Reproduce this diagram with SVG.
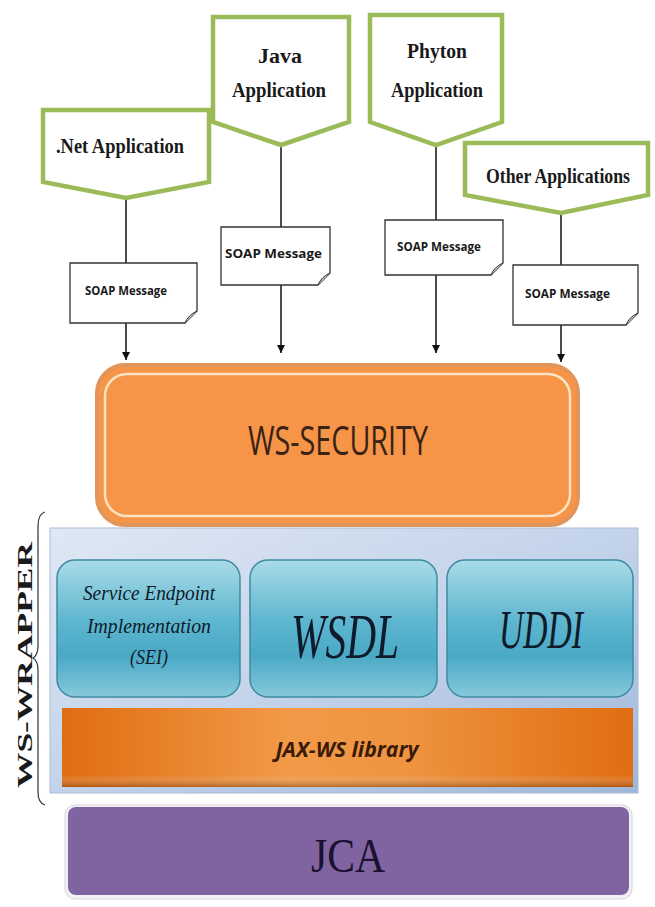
<svg xmlns="http://www.w3.org/2000/svg" width="655" height="907" viewBox="0 0 655 907">
<style>
.pent{fill:#ffffff;stroke:#9bbb59;stroke-width:4.5;stroke-linejoin:miter}
.apptxt{font-family:"Liberation Serif",serif;font-weight:bold;font-size:21px;fill:#1a1a1a}
.note{fill:#ffffff;stroke:#333333;stroke-width:1.3}
.notetxt{font-family:"Open Sans","Liberation Sans",sans-serif;font-weight:bold;font-size:12px;fill:#1a1a1a}
.conn{stroke:#111111;stroke-width:1.5;fill:none}
.teal{stroke:#3f8aa3;stroke-width:1.5}
.teltxt{font-family:"Liberation Serif",serif;font-style:italic;fill:#0f1a2a}
</style>
<defs>
<marker id="arr" markerWidth="10" markerHeight="10" refX="8" refY="5" orient="auto" markerUnits="userSpaceOnUse">
<path d="M0,1 L8,5 L0,9 Z" fill="#111111"/>
</marker>
<linearGradient id="wrapG" x1="0" y1="0" x2="1" y2="1">
<stop offset="0" stop-color="#dfe8f4"/>
<stop offset="0.5" stop-color="#c3d3ea"/>
<stop offset="1" stop-color="#9fb7da"/>
</linearGradient>
<linearGradient id="tealG" x1="0" y1="0" x2="0" y2="1">
<stop offset="0" stop-color="#a9dbe8"/>
<stop offset="0.45" stop-color="#5db6cf"/>
<stop offset="0.7" stop-color="#4aa9c5"/>
<stop offset="1" stop-color="#86c9dc"/>
</linearGradient>
<linearGradient id="jaxG" x1="0" y1="0" x2="1" y2="0">
<stop offset="0" stop-color="#e06d12"/>
<stop offset="0.4" stop-color="#f29a48"/>
<stop offset="0.6" stop-color="#ef9440"/>
<stop offset="1" stop-color="#e06d12"/>
</linearGradient>
<linearGradient id="jaxV" x1="0" y1="0" x2="0" y2="1">
<stop offset="0" stop-color="#ffffff" stop-opacity="0"/>
<stop offset="0.85" stop-color="#ffffff" stop-opacity="0"/>
<stop offset="1" stop-color="#7a3a08" stop-opacity="0.5"/>
</linearGradient>
</defs>

<g id="connectors">
<line class="conn" x1="126" y1="198" x2="126" y2="263"/>
<line class="conn" x1="126" y1="323" x2="126" y2="360" marker-end="url(#arr)"/>
<line class="conn" x1="281" y1="145" x2="281" y2="227"/>
<line class="conn" x1="281" y1="285" x2="281" y2="353" marker-end="url(#arr)"/>
<line class="conn" x1="436" y1="145" x2="436" y2="220"/>
<line class="conn" x1="436" y1="275" x2="436" y2="353" marker-end="url(#arr)"/>
<line class="conn" x1="561" y1="213" x2="561" y2="265"/>
<line class="conn" x1="561" y1="325" x2="561" y2="362" marker-end="url(#arr)"/>
</g>

<g id="net-app">
<path class="pent" d="M43,110 H209 V182 L126,198 L43,182 Z"/>
<text class="apptxt" x="120" y="153" text-anchor="middle" textLength="128" lengthAdjust="spacingAndGlyphs">.Net Application</text>
</g>
<g id="java-app">
<path class="pent" d="M213,17 H349 V122 L281,145 L213,122 Z"/>
<text class="apptxt" x="280" y="63" text-anchor="middle" textLength="44" lengthAdjust="spacingAndGlyphs">Java</text>
<text class="apptxt" x="279" y="97" text-anchor="middle" textLength="94" lengthAdjust="spacingAndGlyphs">Application</text>
</g>
<g id="phyton-app">
<path class="pent" d="M370,15 H502 V122 L436,145 L370,122 Z"/>
<text class="apptxt" x="437" y="58" text-anchor="middle" textLength="60" lengthAdjust="spacingAndGlyphs">Phyton</text>
<text class="apptxt" x="437" y="97" text-anchor="middle" textLength="92" lengthAdjust="spacingAndGlyphs">Application</text>
</g>
<g id="other-app">
<path class="pent" d="M465,143 H648 V195 L561,213 L465,195 Z"/>
<text class="apptxt" x="558" y="183" text-anchor="middle" textLength="144" lengthAdjust="spacingAndGlyphs">Other Applications</text>
</g>

<g id="soap1">
<path class="note" d="M70,263 H197 V311 L185,323 H70 Z"/>
<path d="M185,323 Q188,315 197,311" fill="#cccccc" stroke="#333333" stroke-width="1"/>
<text class="notetxt" x="85" y="295" textLength="82" lengthAdjust="spacingAndGlyphs">SOAP Message</text>
</g>
<g id="soap2">
<path class="note" d="M221,227 H330 V273 L318,285 H221 Z"/>
<path d="M318,285 Q321,277 330,273" fill="#cccccc" stroke="#333333" stroke-width="1"/>
<text class="notetxt" x="225" y="258" textLength="97" lengthAdjust="spacingAndGlyphs">SOAP Message</text>
</g>
<g id="soap3">
<path class="note" d="M385,220 H503 V263 L491,275 H385 Z"/>
<path d="M491,275 Q494,267 503,263" fill="#cccccc" stroke="#333333" stroke-width="1"/>
<text class="notetxt" x="397" y="251" textLength="84" lengthAdjust="spacingAndGlyphs">SOAP Message</text>
</g>
<g id="soap4">
<path class="note" d="M513,265 H638 V313 L626,325 H513 Z"/>
<path d="M626,325 Q629,317 638,313" fill="#cccccc" stroke="#333333" stroke-width="1"/>
<text class="notetxt" x="525" y="298" textLength="85" lengthAdjust="spacingAndGlyphs">SOAP Message</text>
</g>

<g id="ws-security">
<rect x="97" y="365" width="481" height="160" rx="28" fill="#f69547" stroke="#e2955a" stroke-width="4"/>
<rect x="105" y="374" width="465" height="142" rx="22" fill="none" stroke="#fbe4c6" stroke-width="2.5"/>
<text x="338" y="455" text-anchor="middle" font-family="'Open Sans','Liberation Sans',sans-serif" font-size="40" fill="#3a2216" textLength="180" lengthAdjust="spacingAndGlyphs">WS-SECURITY</text>
</g>

<g id="ws-wrapper">
<rect x="50" y="528" width="588" height="265" fill="url(#wrapG)" stroke="#a9bcd6" stroke-width="1"/>
<path d="M45,512 Q38,514 38,526 L38,646 Q38,655 33,658 Q38,661 38,670 L38,792 Q38,803 45,805" fill="none" stroke="#333333" stroke-width="1.2"/>
<text transform="translate(32,665) rotate(-90)" text-anchor="middle" font-family="'Liberation Serif',serif" font-weight="bold" font-size="20" fill="#1a1a1a" textLength="246" lengthAdjust="spacingAndGlyphs">WS-WRAPPER</text>
</g>

<g id="sei">
<rect class="teal" x="57" y="560" width="183" height="137" rx="18" fill="url(#tealG)"/>
<text class="teltxt" x="149" y="600" text-anchor="middle" font-size="21" textLength="132" lengthAdjust="spacingAndGlyphs">Service Endpoint</text>
<text class="teltxt" x="149" y="633" text-anchor="middle" font-size="21" textLength="124" lengthAdjust="spacingAndGlyphs">Implementation</text>
<text class="teltxt" x="149" y="664" text-anchor="middle" font-size="20" textLength="38" lengthAdjust="spacingAndGlyphs">(SEI)</text>
</g>
<g id="wsdl">
<rect class="teal" x="250" y="560" width="187" height="137" rx="18" fill="url(#tealG)"/>
<text class="teltxt" x="345" y="658" text-anchor="middle" font-size="64" textLength="108" lengthAdjust="spacingAndGlyphs">WSDL</text>
</g>
<g id="uddi">
<rect class="teal" x="447" y="560" width="186" height="137" rx="18" fill="url(#tealG)"/>
<text class="teltxt" x="541" y="648" text-anchor="middle" font-size="54" textLength="84" lengthAdjust="spacingAndGlyphs">UDDI</text>
</g>

<g id="jax-ws">
<rect x="62" y="708" width="571" height="79" fill="url(#jaxG)"/>
<rect x="62" y="708" width="571" height="79" fill="url(#jaxV)"/>
<text x="347" y="757" text-anchor="middle" font-family="'Open Sans','Liberation Sans',sans-serif" font-style="italic" font-weight="bold" font-size="22" fill="#3a1a08" textLength="143" lengthAdjust="spacingAndGlyphs">JAX-WS library</text>
</g>

<g id="jca">
<rect x="65" y="805" width="567" height="94" rx="10" fill="#f2f0f4" stroke="#d8d4de" stroke-width="1"/>
<rect x="68" y="807" width="561" height="88" rx="8" fill="#8064a2"/>
<text x="348" y="872" text-anchor="middle" font-family="'Liberation Serif',serif" font-size="48" fill="#1c1030" textLength="74" lengthAdjust="spacingAndGlyphs">JCA</text>
</g>
</svg>
